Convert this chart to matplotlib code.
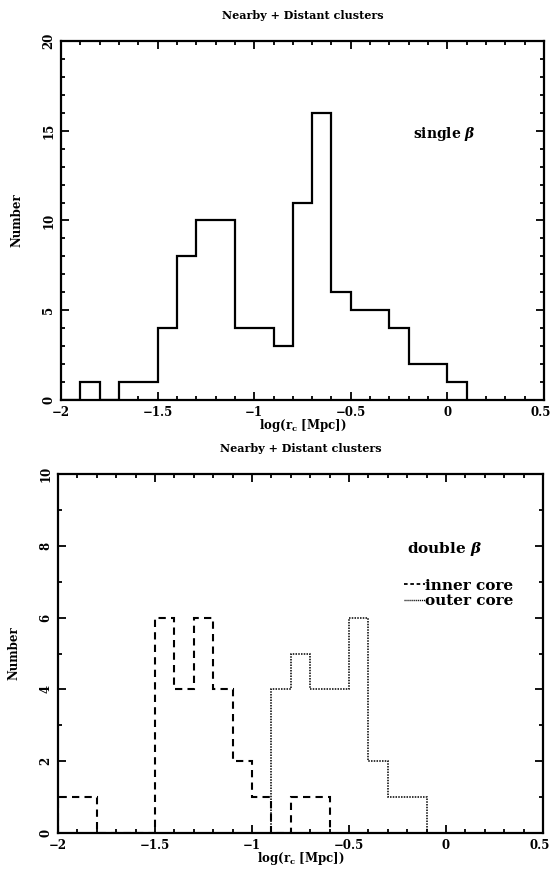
import numpy as np
import matplotlib
matplotlib.use("Agg")
import matplotlib.pyplot as plt
import matplotlib.transforms as mtrans
from matplotlib.ticker import MultipleLocator, FuncFormatter
from matplotlib.lines import Line2D

plt.rcParams['font.family'] = ['DejaVu Serif']
plt.rcParams['font.weight'] = 'bold'
plt.rcParams['axes.labelweight'] = 'bold'
plt.rcParams['mathtext.fontset'] = 'custom'
plt.rcParams['mathtext.rm'] = 'DejaVu Serif:bold'
plt.rcParams['mathtext.it'] = 'DejaVu Serif:bold:italic'
plt.rcParams['mathtext.bf'] = 'DejaVu Serif:bold'

# log(r_c) histograms, bin width 0.1
edges_single = np.round(np.arange(-2.0, 0.11, 0.1), 2)
counts_single = [0, 1, 0, 1, 1, 4, 8, 10, 10, 4, 4, 3, 11, 16, 6, 5, 5, 4, 2, 2, 1]

edges_inner = np.round(np.arange(-2.0, -0.59, 0.1), 2)
counts_inner = [1, 1, 0, 0, 0, 6, 4, 6, 4, 2, 1, 0, 1, 1]

edges_outer = np.round(np.arange(-0.9, -0.09, 0.1), 2)
counts_outer = [4, 5, 4, 4, 6, 2, 1, 1]

title = "Nearby + Distant clusters"
xlab = r"log(r$_\mathrm{c}$ [Mpc])"

fig = plt.figure(figsize=(5.52, 8.73), dpi=100)
W, H = 552, 873
ax1 = fig.add_axes([61 / W, 1 - 400 / H, 483 / W, 359 / H])
ax2 = fig.add_axes([58 / W, 1 - 833 / H, 485 / W, 359 / H])

fmt = FuncFormatter(lambda v, p: ("%g" % v).replace("-", "\u2212"))


def style(ax, ymax, ymaj):
    ax.set_xlim(-2, 0.5)
    ax.set_ylim(0, ymax)
    ax.xaxis.set_major_locator(MultipleLocator(0.5))
    ax.xaxis.set_minor_locator(MultipleLocator(0.1))
    ax.yaxis.set_major_locator(MultipleLocator(ymaj))
    ax.yaxis.set_minor_locator(MultipleLocator(1))
    ax.xaxis.set_major_formatter(fmt)
    ax.tick_params(which='both', direction='in', top=True, right=True,
                   width=1.3, labelsize=8.5, pad=4)
    ax.tick_params(which='major', length=6)
    ax.tick_params(which='minor', length=3)
    for lbl in ax.get_yticklabels():
        lbl.set_rotation(90)
        lbl.set_va('center')
    for s in ax.spines.values():
        s.set_linewidth(1.6)
    ax.set_title(title, fontsize=8, fontweight='bold', pad=16)
    ax.set_xlabel(xlab, fontsize=8.5, fontweight='bold', labelpad=-1)
    ax.set_ylabel("Number", fontsize=8.5, fontweight='bold', labelpad=14)


ax1.stairs(counts_single, edges_single, color='black', linewidth=1.6)
style(ax1, 20, 5)
ax1.text(-0.18, 14.8, r"single $\beta$", fontsize=10, fontweight='bold',
         va='center', ha='left')

ax2.stairs(counts_inner, edges_inner, color='black', linewidth=1.5,
           linestyle=(0, (3.5, 2.5)))
ax2.stairs(counts_outer, edges_outer, color='black', linewidth=1.1,
           linestyle=(0, (1, 0.8)))
style(ax2, 10, 2)
ax2.text(-0.2, 7.9, r"double $\beta$", fontsize=11, fontweight='bold',
         va='center', ha='left')

handles = [Line2D([], [], color='black', lw=1.3, linestyle=(0, (2, 1.5))),
           Line2D([], [], color='black', lw=1.0, linestyle=(0, (0.8, 0.6)))]
ax2.legend(handles, ["inner core", "outer core"], loc='upper left',
           bbox_to_anchor=(0.70, 0.725), frameon=False, handlelength=1.4,
           handletextpad=0.0, borderaxespad=0, labelspacing=0.1,
           prop={'family': 'DejaVu Serif', 'weight': 'bold', 'size': 11})

# keep the last x label (0.5) inside the figure
fig.canvas.draw()
for ax in (ax1, ax2):
    for tick in ax.xaxis.get_major_ticks():
        if abs(tick.get_loc() - 0.5) < 1e-9:
            tick.label1.set_ha('right')
            tick.label1.set_x(0.5)
            tick.label1.set_transform(
                tick.label1.get_transform() +
                mtrans.ScaledTranslation(7 / 100, 0, fig.dpi_scale_trans))

fig.savefig("out.png", dpi=100)
